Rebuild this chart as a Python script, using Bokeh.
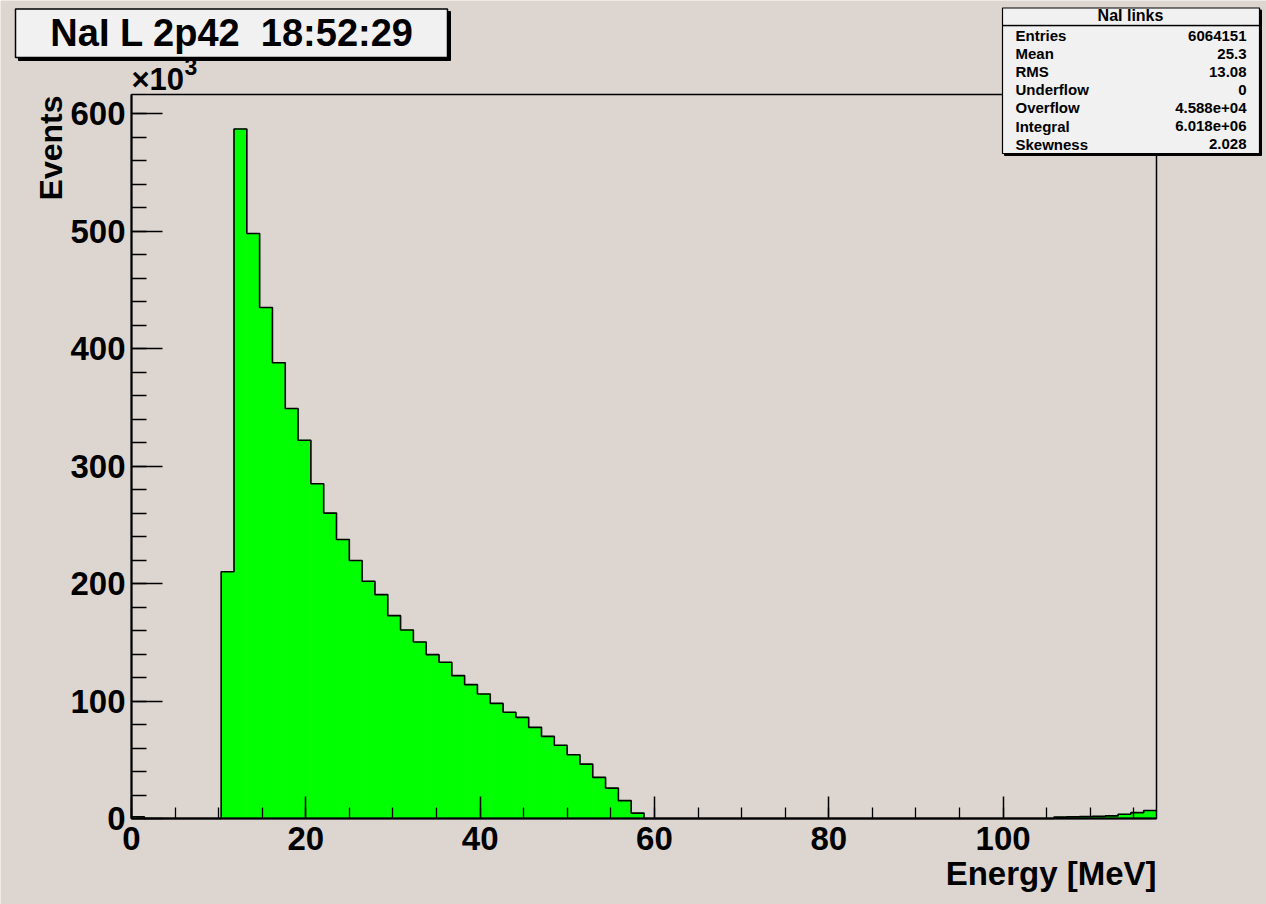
import math
import numpy as np
from bokeh.plotting import figure
from bokeh.models import Range1d, SingleIntervalTicker, Label, BoxAnnotation
from bokeh.embed import file_html
from bokeh.resources import INLINE

# ---------------- data ----------------
hist_title = "NaI L 2p42\u00a0 18:52:29"
stats_name = "NaI links"
stat_labels = ["Entries", "Mean", "RMS", "Underflow", "Overflow", "Integral", "Skewness"]
stat_values = ["6064151", "25.3", "13.08", "0", "4.588e+04", "6.018e+06", "2.028"]
x_title = "Energy [MeV]"
y_title = "Events"
y_exp_base = "\u00d710"
y_exp_power = "3"
x_tick_labels = ["0", "20", "40", "60", "80", "100"]
y_tick_labels = ["0", "100", "200", "300", "400", "500", "600"]

bin_low = 0.0
bin_high = 117.6
n_bins = 80
# events per bin, in units of 10^3
events_k = [
    1.5, 0, 0, 0, 0, 0, 0,
    210, 587, 498, 435, 388, 349, 322, 285, 260, 237.5,
    219.6, 202, 190.6, 172.7, 160.5, 150.3, 139.5, 133, 121.6, 114,
    106, 98, 90.4, 86.1, 77.6, 69.9, 62.3, 54.3, 46.3, 35,
    25.9, 15.2, 4.6,
    0, 0, 0, 0, 0, 0, 0, 0, 0, 0,
    0, 0, 0, 0, 0, 0, 0, 0, 0, 0,
    0, 0, 0, 0, 0, 0, 0, 0, 0, 0,
    0, 0,
    1.2, 1.4, 1.6, 1.8, 2.2, 3.6, 5.0, 6.8,
]
y_max = 1.05 * max(events_k)

# ---------------- layout constants ----------------
W, H = 1266, 904
FL, FR, FT, FB = 131, 1156, 94, 818   # histogram frame in pixels
BG = "#ddd6d0"
BOXBG = "#f1f1f1"
FONT = "Liberation Sans"
BASE_SHIFT = 0.38   # correction for label baseline placement (fraction of font size)

xs = (bin_high - bin_low) / (FR - FL)   # data units per pixel
ys = y_max / (FB - FT)


def dx(px):
    return bin_low + (px - FL) * xs


def dy(py):
    return (FB - py) * ys


def text_label(x_px, base_px, text, size, align, angle=0.0, style="bold"):
    if angle:
        xp, yp = x_px - BASE_SHIFT * size, base_px
    else:
        xp, yp = x_px, base_px - BASE_SHIFT * size
    return Label(x=dx(xp), y=dy(yp), text=text, angle=angle, text_align=align,
                 text_baseline="alphabetic", text_font=FONT, text_font_style=style,
                 text_font_size=f"{size}px", text_color="black")


edges = np.linspace(bin_low, bin_high, n_bins + 1)
counts = np.array(events_k, dtype=float)

p = figure(width=W, height=H,
           x_range=Range1d(dx(0), dx(W)), y_range=Range1d(dy(H), dy(0)),
           output_backend="svg", toolbar_location=None, title=None,
           min_border=0, min_border_left=0, min_border_right=0,
           min_border_top=0, min_border_bottom=0,
           background_fill_color=BG, border_fill_color=BG,
           outline_line_color=None)
p.grid.visible = False

# histogram fill + outline
p.quad(left=edges[:-1], right=edges[1:], bottom=0, top=counts,
       fill_color="#00ff00", line_color="#00ff00", line_width=0.8)
p.step(x=edges, y=np.append(counts, counts[-1]), mode="after",
       line_color="black", line_width=1.6)

# frame box
p.add_layout(BoxAnnotation(left=bin_low, right=bin_high, bottom=0, top=y_max,
                           fill_alpha=0, line_color="black", line_width=1.5, line_alpha=1))

# axes
p.xaxis.ticker = SingleIntervalTicker(interval=20, num_minor_ticks=4)
p.yaxis.ticker = SingleIntervalTicker(interval=100, num_minor_ticks=5)
p.xaxis.major_label_overrides = {i * 20: t for i, t in enumerate(x_tick_labels)}
p.yaxis.major_label_overrides = {i * 100: t for i, t in enumerate(y_tick_labels)}
p.xaxis.fixed_location = 0
p.yaxis.fixed_location = bin_low
p.xaxis.bounds = (bin_low, bin_high)
p.yaxis.bounds = (0, y_max)
for ax in (p.xaxis, p.yaxis):
    ax.axis_line_color = "black"
    ax.axis_line_width = 2
    ax.major_tick_line_color = "black"
    ax.minor_tick_line_color = "black"
    ax.major_tick_line_width = 1.5
    ax.minor_tick_line_width = 1.3
    ax.major_tick_out = 0
    ax.minor_tick_out = 0
    ax.major_label_text_font = FONT
    ax.major_label_text_font_style = "bold"
    ax.major_label_text_font_size = "33px"
    ax.major_label_text_color = "black"
p.xaxis.major_tick_in = 22
p.xaxis.minor_tick_in = 11
p.yaxis.major_tick_in = 31
p.yaxis.minor_tick_in = 15
p.xaxis.major_label_standoff = 8
p.yaxis.major_label_standoff = 6

# axis titles and exponent
p.add_layout(text_label(FR, 886, x_title, 33, "right"))
p.add_layout(text_label(63, 95, y_title, 32, "right", angle=math.pi / 2))
p.add_layout(text_label(131, 91, y_exp_base, 31, "left"))
p.add_layout(text_label(184, 75, y_exp_power, 23, "left"))

# title box (shadow + box + text)
p.add_layout(BoxAnnotation(left=dx(18), right=dx(450), top=dy(11), bottom=dy(60),
                           fill_color="black", fill_alpha=1, line_color="black", line_alpha=1))
p.add_layout(BoxAnnotation(left=dx(15), right=dx(447), top=dy(8.5), bottom=dy(57),
                           fill_color=BOXBG, fill_alpha=1, line_color="black",
                           line_width=1.5, line_alpha=1))
p.add_layout(text_label(231.5, 47, hist_title, 38, "center"))

# stats box
SL, SR, ST, SB = 1002, 1259, 7.5, 153
p.add_layout(BoxAnnotation(left=dx(SL + 2), right=dx(SR + 2), top=dy(ST + 2), bottom=dy(SB + 2),
                           fill_color="black", fill_alpha=1, line_color="black", line_alpha=1))
p.add_layout(BoxAnnotation(left=dx(SL), right=dx(SR), top=dy(ST), bottom=dy(SB),
                           fill_color=BOXBG, fill_alpha=1, line_color="black",
                           line_width=1.2, line_alpha=1))
p.add_layout(BoxAnnotation(left=dx(SL), right=dx(SR), top=dy(24.6), bottom=dy(25.6),
                           fill_color="black", fill_alpha=1, line_color="black",
                           line_width=0.5, line_alpha=1))
p.add_layout(text_label(1130, 21.5, stats_name, 16, "center"))
for i, (lab, val) in enumerate(zip(stat_labels, stat_values)):
    base = 40.7 + 18.1 * i
    p.add_layout(text_label(1015, base, lab, 15, "left"))
    p.add_layout(text_label(1246, base, val, 15, "right"))

open("out.html", "w").write(file_html(p, INLINE))
